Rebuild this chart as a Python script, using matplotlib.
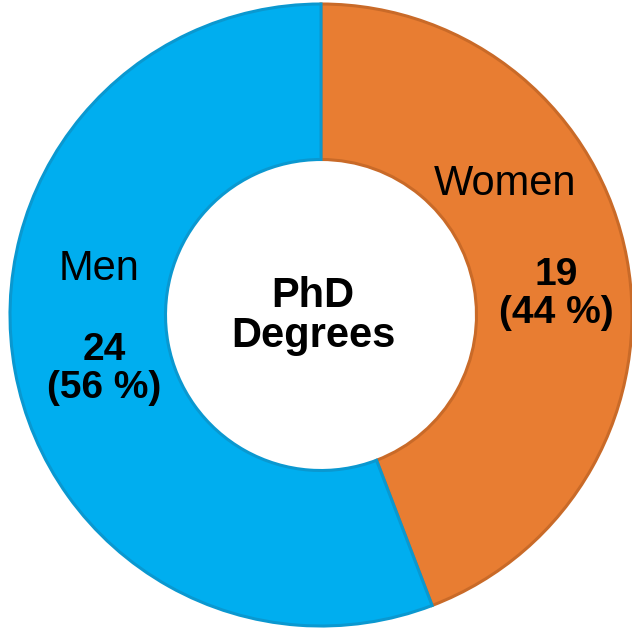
import matplotlib
matplotlib.use("Agg")
import matplotlib.pyplot as plt

categories = ["Women", "Men"]
values = [19, 24]
colors = ["#E87D32", "#00AEEF"]
edge_colors = ["#C96A28", "#0A98D0"]

plt.rcParams['font.family'] = ['Liberation Sans', 'DejaVu Sans']

fig = plt.figure(figsize=(6.32, 6.30), dpi=100)
ax = fig.add_axes([0, 0, 1, 1])
R = 311.0
cx, cy = 321.0, 315.0
ax.set_aspect('equal')
ax.axis('off')

wedges, _ = ax.pie(values, colors=colors, startangle=90, counterclock=False,
                   radius=1.0, wedgeprops=dict(width=0.5, linewidth=2.2))
ax.set_xlim(-cx / R, (632 - cx) / R)
ax.set_ylim(-(630 - cy) / R, cy / R)
for w, ec in zip(wedges, edge_colors):
    w.set_edgecolor(ec)

total = sum(values)
pct = [round(v / total * 100) for v in values]

def px(x, y):
    return ((x - cx) / R, (cy - y) / R)

ax.text(*px(505, 184), categories[0], ha='center', va='center', fontsize=30)
ax.text(*px(556, 294), f"{values[0]}\n({pct[0]} %)", ha='center', va='center',
        fontsize=28, fontweight='bold', linespacing=1.05)
ax.text(*px(99, 269), categories[1], ha='center', va='center', fontsize=30)
ax.text(*px(104, 369), f"{values[1]}\n({pct[1]} %)", ha='center', va='center',
        fontsize=28, fontweight='bold', linespacing=1.05)
ax.text(*px(313, 316), "PhD\nDegrees", ha='center', va='center',
        fontsize=30, fontweight='bold', linespacing=0.98)

fig.savefig("out.png", dpi=100)
